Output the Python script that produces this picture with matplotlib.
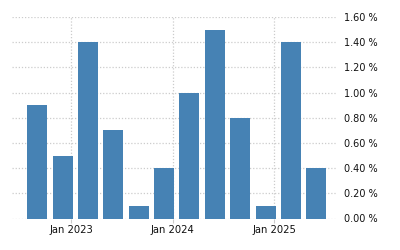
import pandas as pd
import matplotlib
matplotlib.use("Agg")
import matplotlib.pyplot as plt
import matplotlib.dates as mdates

# quarterly values (%)
quarters = ["2022Q3", "2022Q4", "2023Q1", "2023Q2", "2023Q3", "2023Q4",
            "2024Q1", "2024Q2", "2024Q3", "2024Q4", "2025Q1", "2025Q2"]
values = [0.9, 0.5, 1.4, 0.7, 0.1, 0.4, 1.0, 1.5, 0.8, 0.1, 1.4, 0.4]
yticks = [0.0, 0.2, 0.4, 0.6, 0.8, 1.0, 1.2, 1.4, 1.6]
xticks = ["2023-01-01", "2024-01-01", "2025-01-01"]

# bars sit on the last month of each quarter
dates = pd.PeriodIndex(quarters, freq="Q").to_timestamp(how="start") + pd.DateOffset(months=2)

fig = plt.figure(figsize=(4, 2.5), dpi=100)
ax = fig.add_axes([0.03, 0.126, 0.8125, 0.806])

ax.bar(dates, values, width=72, color="#4682B4", zorder=2)

ax.set_xlim(pd.Timestamp("2022-06-02"), pd.Timestamp("2025-08-15"))
ax.set_ylim(0, 1.6)

ax.set_xticks(pd.to_datetime(xticks))
ax.xaxis.set_major_formatter(mdates.DateFormatter("%b %Y"))
ax.set_yticks(yticks)
ax.set_yticklabels(["%.2f %%" % v for v in yticks])
ax.yaxis.tick_right()

ax.grid(True, color="#cccccc", linestyle=(0, (1, 1.5)), linewidth=0.9, zorder=0)
ax.tick_params(axis="y", length=0, pad=5, labelsize=7, labelcolor="#111111")
ax.tick_params(axis="x", length=3, color="#cccccc", pad=2, labelsize=7.2, labelcolor="#111111")
for s in ax.spines.values():
    s.set_visible(False)

fig.savefig("out.png", dpi=100)
